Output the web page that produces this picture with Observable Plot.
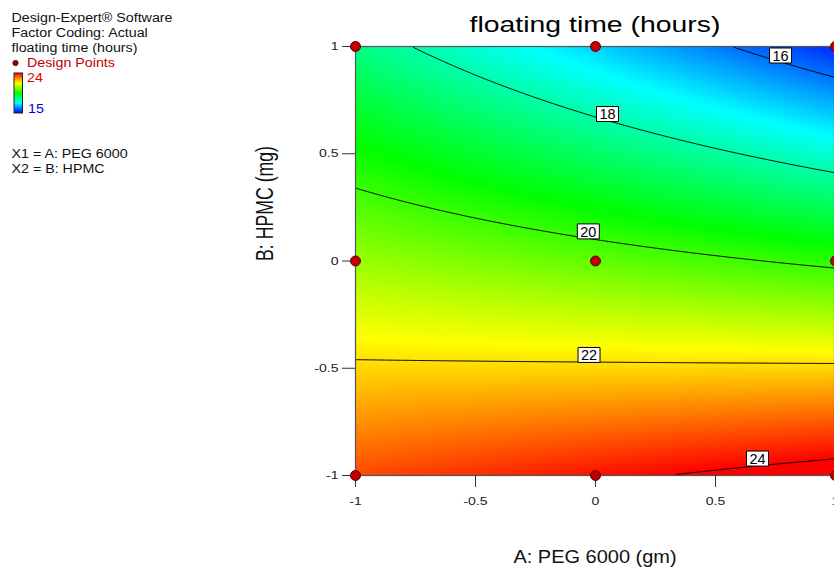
<!DOCTYPE html>
<html><head><meta charset="utf-8">
<script src="https://cdn.jsdelivr.net/npm/d3@7"></script>
<script src="https://cdn.jsdelivr.net/npm/@observablehq/plot@0.6"></script>
<style>
body{margin:0;background:#fff;}
#wrap{position:relative;width:834px;height:567px;overflow:hidden;font-family:Arial,"Liberation Sans",sans-serif;background:#fff;}
#wrap svg{position:absolute;left:0;top:0;}
</style></head><body><div id="wrap"></div>
<script>
// ---- data ----
const factorA = [-1, 0, 1];          // A: PEG 6000 (coded)
const factorB = [-1, 0, 1];          // B: HPMC (coded)
// predicted floating time (hours); rows follow factorB, columns follow factorA
const responseGrid = [
  [23.35, 23.85, 24.35],
  [20.85, 20.35, 19.85],
  [18.35, 16.85, 15.35]
];
const contourLevels = [16, 18, 20, 22, 24];
const labelA = [0.771, 0.05, -0.03, -0.027, 0.675];
const labelB = [0.958, 0.685, 0.138, -0.438, -0.921];
const colorStops = [15, 17.25, 19.5, 21.75, 24];
const colorRange = ["#0000ff", "#00ffff", "#00ff00", "#ffff00", "#ff0000"];
const xTicks = [-1, -0.5, 0, 0.5, 1];
const yTicks = [-1, -0.5, 0, 0.5, 1];
const titleText = "floating time (hours)";
const xLabel = "A: PEG 6000 (gm)";
const yLabel = "B: HPMC (mg)";
const legendHeader = ["Design-Expert® Software", "Factor Coding: Actual", "floating time (hours)"];
const legendPointsLabel = "Design Points";
const legendFactors = ["X1 = A: PEG 6000", "X2 = B: HPMC"];

// ---- bilinear sampling of the response grid ----
function cell(levels, v) {
  return Math.max(0, Math.min(levels.length - 2, d3.bisectRight(levels, v) - 1));
}
function surface(a, b) {
  const i = cell(factorA, a), j = cell(factorB, b);
  const ta = (a - factorA[i]) / (factorA[i + 1] - factorA[i]);
  const tb = (b - factorB[j]) / (factorB[j + 1] - factorB[j]);
  const v00 = responseGrid[j][i], v01 = responseGrid[j][i + 1];
  const v10 = responseGrid[j + 1][i], v11 = responseGrid[j + 1][i + 1];
  return (1 - tb) * ((1 - ta) * v00 + ta * v01) + tb * ((1 - ta) * v10 + ta * v11);
}
const designPoints = factorB.flatMap(b => factorA.map(a => ({a, b})));
const labels = contourLevels.map((v, i) => ({v, a: labelA[i], b: labelB[i]}));
const font = 'Arial, "Liberation Sans", sans-serif';
const boxSymbol = {draw(ctx) { ctx.rect(-11, -7.5, 22, 15); }};
const tickFmt = d => String(d);

const chart = Plot.plot({
  width: 834, height: 567,
  marginLeft: 355, marginTop: 46, marginBottom: 92, marginRight: 0,
  style: {fontFamily: font, background: "transparent", color: "#222"},
  x: {domain: [-1, 1], range: [355, 835]},
  y: {domain: [-1, 1], range: [475, 46]},
  color: {type: "linear", domain: colorStops, range: colorRange, interpolate: "rgb", clamp: true},
  marks: [
    Plot.raster({fill: surface, x1: -1, x2: 1, y1: -1, y2: 1, pixelSize: 1, clip: "frame"}),
    Plot.contour({value: surface, x1: -1, x2: 1, y1: -1, y2: 1, thresholds: contourLevels,
      stroke: "black", strokeWidth: 1, fill: "none", clip: "frame"}),
    Plot.frame({stroke: "#555", strokeWidth: 1.2}),
    Plot.axisX({ticks: xTicks, tickSize: 12, tickPadding: 9.5, tickFormat: tickFmt,
      fontSize: 11.5, label: null, stroke: "#333"}),
    Plot.axisY({ticks: yTicks, tickSize: 13, tickPadding: 4, tickFormat: tickFmt,
      fontSize: 11.5, label: null, stroke: "#333"}),
    Plot.dot(designPoints, {x: "a", y: "b", r: 5, fill: "#c00000", stroke: "#5a0000", strokeWidth: 1}),
    Plot.dot(labels, {x: "a", y: "b", symbol: boxSymbol, fill: "white", stroke: "black", strokeWidth: 1}),
    Plot.text(labels, {x: "a", y: "b", text: d => String(d.v), fontSize: 14.5, dy: 0.5, fill: "black"}),
    Plot.text([titleText], {text: d => d, frameAnchor: "top", lineAnchor: "middle", dy: -21.3, fontSize: 22, fill: "black"}),
    Plot.text([xLabel], {text: d => d, frameAnchor: "bottom", lineAnchor: "middle", dy: 82.2, fontSize: 18, fill: "#111"}),
    Plot.text([yLabel], {text: d => d, frameAnchor: "left", lineAnchor: "middle", dx: -89.3, rotate: -90, fontSize: 17.7, fill: "#111"})
  ]
});
const wrap = document.getElementById("wrap");
wrap.appendChild(chart);

function stretch(nodes, f) {
  nodes.forEach(t => {
    const w = t.getComputedTextLength();
    if (w > 0) { t.setAttribute("textLength", w * f); t.setAttribute("lengthAdjust", "spacingAndGlyphs"); }
  });
}
const tickStrings = new Set([...xTicks, ...yTicks].map(tickFmt));
const allText = Array.from(chart.querySelectorAll("text"));
stretch(allText.filter(t => t.textContent === titleText), 1.29);
stretch(allText.filter(t => t.textContent === xLabel), 1.11);
stretch(allText.filter(t => tickStrings.has(t.textContent)), 1.22);
// y label: widen glyph thickness horizontally, keep its centre at x = 265
const svgLeft = chart.getBoundingClientRect().left;
allText.filter(t => t.textContent === yLabel).forEach(t => {
  const base = t.getAttribute("transform") || "";
  const r0 = t.getBoundingClientRect();
  const c0 = r0.left - svgLeft + r0.width / 2;
  t.setAttribute("transform", `translate(${c0},0) scale(1.3,1) translate(${-c0},0) ` + base);
  const r1 = t.getBoundingClientRect();
  const c1 = r1.left - svgLeft + r1.width / 2;
  t.setAttribute("transform", `translate(${265 - c1},0) ` + t.getAttribute("transform"));
});

// left legend
const leg = d3.select(wrap).append("svg").attr("width", 240).attr("height", 200)
  .style("font-family", font).style("font-size", "12.5px");
legendHeader.forEach((s, i) => leg.append("text").attr("x", 11.5).attr("y", 22 + i * 15).attr("fill", "#111").text(s));
leg.append("circle").attr("cx", 15.5).attr("cy", 63).attr("r", 2.6).attr("fill", "#a00000").attr("stroke", "#500000");
leg.append("text").attr("x", 27).attr("y", 66.5).attr("fill", "#c00000").text(legendPointsLabel);
const grad = leg.append("defs").append("linearGradient").attr("id", "cbar").attr("x1", 0).attr("x2", 0).attr("y1", 0).attr("y2", 1);
colorRange.slice().reverse().forEach((c, i) => grad.append("stop").attr("offset", i / (colorRange.length - 1)).attr("stop-color", c));
leg.append("rect").attr("x", 14).attr("y", 73).attr("width", 8.5).attr("height", 40).attr("fill", "url(#cbar)").attr("stroke", "#222").attr("stroke-width", 1);
leg.append("text").attr("x", 27).attr("y", 82).attr("fill", "#e00000").text(String(colorStops[colorStops.length - 1]));
leg.append("text").attr("x", 28).attr("y", 113).attr("fill", "#0000e0").text(String(colorStops[0]));
legendFactors.forEach((s, i) => leg.append("text").attr("x", 11.5).attr("y", 158 + i * 15).attr("fill", "#111").text(s));
stretch(leg.selectAll("text").nodes(), 1.14);
</script>
</body></html>
